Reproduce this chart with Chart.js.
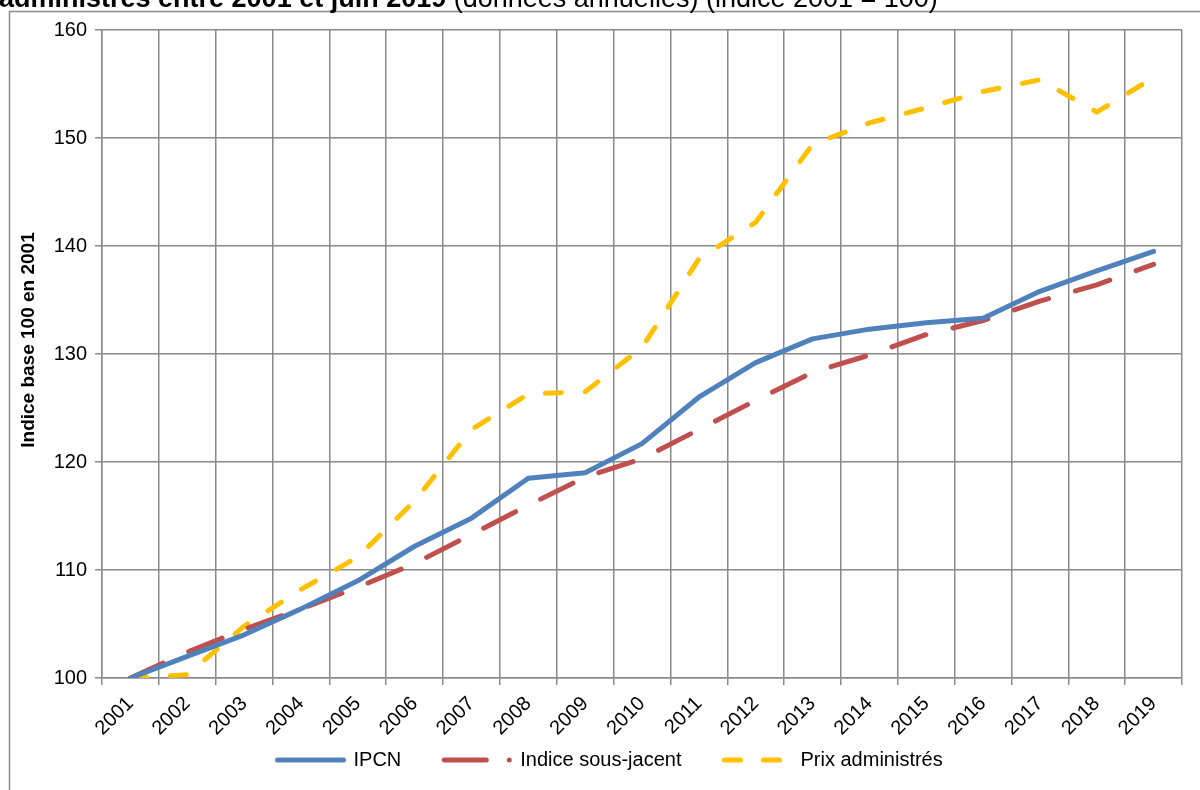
<!DOCTYPE html>
<html lang="fr">
<head>
<meta charset="utf-8">
<title>IPCN, indice sous-jacent et prix administrés</title>
<script src="https://cdn.jsdelivr.net/npm/chart.js@4.4.1/dist/chart.umd.min.js"></script>
<style>
  html, body { margin: 0; padding: 0; background: #ffffff; }
  #wrap { width: 1200px; height: 790px; position: relative; }
</style>
</head>
<body>
<div id="wrap"><canvas id="chart" width="1200" height="790"></canvas></div>
<script>
// Années (axe des catégories)
const years = ['2001', '2002', '2003', '2004', '2005', '2006', '2007', '2008', '2009', '2010',
               '2011', '2012', '2013', '2014', '2015', '2016', '2017', '2018', '2019'];

// Indices base 100 en 2001
const ipcn = [100, 102.0, 104.0, 106.4, 109.0, 112.2, 114.8, 118.5, 119.0, 121.7,
              126.0, 129.2, 131.4, 132.3, 132.9, 133.3, 135.8, 137.7, 139.5];
const sousJacent = [100, 102.4, 104.5, 106.4, 108.4, 110.6, 113.3, 116.0, 118.6, 120.3,
                    123.0, 125.7, 128.3, 129.9, 131.8, 133.1, 134.9, 136.4, 138.3];
const prixAdministres = [100, 100.3, 104.8, 108.2, 111.2, 116.4, 123.0, 126.3, 126.5, 130.6,
                         138.8, 142.2, 149.4, 151.4, 152.8, 154.3, 155.4, 152.4, 155.6];

// Graduations de l'axe vertical
const yTicks = [100, 110, 120, 130, 140, 150, 160];

const seriesNames = ['IPCN', 'Indice sous-jacent', 'Prix administrés'];
const yTitle = 'Indice base 100 en 2001';
const FONT = '"Liberation Sans", Arial, sans-serif';
const GRID = '#8a8a8a';
const LEGEND_PAD = 43;
const LEGEND_FONT = 20;

// Cadre, titre (ligne inférieure visible) et titre de l'axe vertical
const frame = {
  id: 'frame',
  beforeDraw(chart) {
    const ctx = chart.ctx;
    ctx.save();
    ctx.fillStyle = '#ffffff';
    ctx.fillRect(0, 0, chart.width, chart.height);
    ctx.strokeStyle = '#8c8c8c';
    ctx.lineWidth = 1.5;
    ctx.beginPath();
    ctx.moveTo(9.5, chart.height);
    ctx.lineTo(9.5, 11.5);
    ctx.lineTo(chart.width, 11.5);
    ctx.stroke();
    ctx.restore();
  },
  afterDraw(chart) {
    const ctx = chart.ctx;
    ctx.save();
    ctx.fillStyle = '#000000';
    ctx.textBaseline = 'alphabetic';
    ctx.font = 'bold 27px ' + FONT;
    const bold = 'administrés entre 2001 et juin 2019';
    ctx.fillText(bold, -1, 7);
    const w = ctx.measureText(bold).width;
    ctx.font = '27px ' + FONT;
    ctx.fillText(' (données annuelles) (indice 2001 = 100)', w - 1, 7);

    // Titre de l'axe vertical, légèrement au-dessus du centre de la zone de tracé
    const area = chart.chartArea;
    ctx.translate(29, (area.top + area.bottom) / 2 - 14);
    ctx.rotate(-Math.PI / 2);
    ctx.font = 'bold 19px ' + FONT;
    ctx.textAlign = 'center';
    ctx.textBaseline = 'middle';
    ctx.fillText(yTitle, 0, 0);
    ctx.restore();
  }
};

// Place la légende sous l'axe des abscisses
const legendPlace = {
  id: 'legendPlace',
  afterLayout(chart) {
    const lg = chart.legend;
    if (!lg || !lg.lineWidths) return;
    const start = (lg.left + LEGEND_PAD + lg.right - lg.lineWidths[0]) / 2;
    const dx = 277.5 - start;
    lg.left += dx;
    lg.right += dx;
    lg.top = 760 - LEGEND_PAD - LEGEND_FONT / 2;
    lg.bottom = chart.height;
    lg.height = lg.bottom - lg.top;
  }
};

// Motifs des échantillons de légende : tiret long + point, tirets courts
const legendDash = [[], [42, 23, 0, 100], [16, 23]];

new Chart(document.getElementById('chart'), {
  type: 'line',
  data: {
    labels: years,
    datasets: [
      {
        label: seriesNames[0],
        data: ipcn,
        borderColor: '#4f81bd',
        borderWidth: 5,
        borderCapStyle: 'round',
        borderJoinStyle: 'round',
        pointRadius: 0,
        tension: 0
      },
      {
        label: seriesNames[1],
        data: sousJacent,
        borderColor: '#c0504d',
        borderWidth: 5,
        borderDash: [36, 28],
        borderCapStyle: 'round',
        borderJoinStyle: 'round',
        pointRadius: 0,
        tension: 0
      },
      {
        label: seriesNames[2],
        data: prixAdministres,
        borderColor: '#ffc000',
        borderWidth: 5,
        borderDash: [16, 24],
        borderCapStyle: 'round',
        borderJoinStyle: 'round',
        pointRadius: 0,
        tension: 0
      }
    ]
  },
  options: {
    responsive: false,
    animation: false,
    devicePixelRatio: 1,
    layout: { padding: { left: 10, right: 18, top: 30, bottom: 10 } },
    plugins: {
      tooltip: { enabled: false },
      title: { display: false },
      legend: {
        display: true,
        position: 'bottom',
        align: 'center',
        maxHeight: 32,
        labels: {
          color: '#000000',
          font: { family: FONT, size: LEGEND_FONT },
          padding: LEGEND_PAD,
          boxWidth: 66,
          usePointStyle: true,
          pointStyleWidth: 66,
          generateLabels(chart) {
            return chart.data.datasets.map((ds, i) => ({
              text: ds.label,
              fillStyle: ds.borderColor,
              strokeStyle: ds.borderColor,
              lineWidth: 5,
              lineCap: 'round',
              lineDash: legendDash[i],
              lineDashOffset: 0,
              pointStyle: 'line',
              hidden: false,
              datasetIndex: i,
              fontColor: '#000000'
            }));
          }
        }
      }
    },
    scales: {
      x: {
        type: 'category',
        offset: true,
        afterFit(scale) { scale.height = 70; },
        grid: {
          display: true,
          offset: true,
          color: GRID,
          lineWidth: 1.5,
          drawTicks: true,
          tickLength: 7,
          tickColor: GRID
        },
        border: { display: true, color: GRID, width: 1.5 },
        ticks: {
          color: '#000000',
          font: { family: FONT, size: 20 },
          maxRotation: 45,
          minRotation: 45,
          autoSkip: false,
          padding: 7
        }
      },
      y: {
        min: yTicks[0],
        max: yTicks[yTicks.length - 1],
        afterFit(scale) { scale.width = 92; },
        afterBuildTicks(scale) { scale.ticks = yTicks.map(v => ({ value: v })); },
        grid: {
          display: true,
          color: GRID,
          lineWidth: 1.5,
          drawTicks: true,
          tickLength: 7,
          tickColor: GRID
        },
        border: { display: true, color: GRID, width: 1.5 },
        ticks: {
          color: '#000000',
          font: { family: FONT, size: 20 },
          padding: 8
        },
        title: { display: false }
      }
    }
  },
  plugins: [frame, legendPlace]
});
</script>
</body>
</html>
